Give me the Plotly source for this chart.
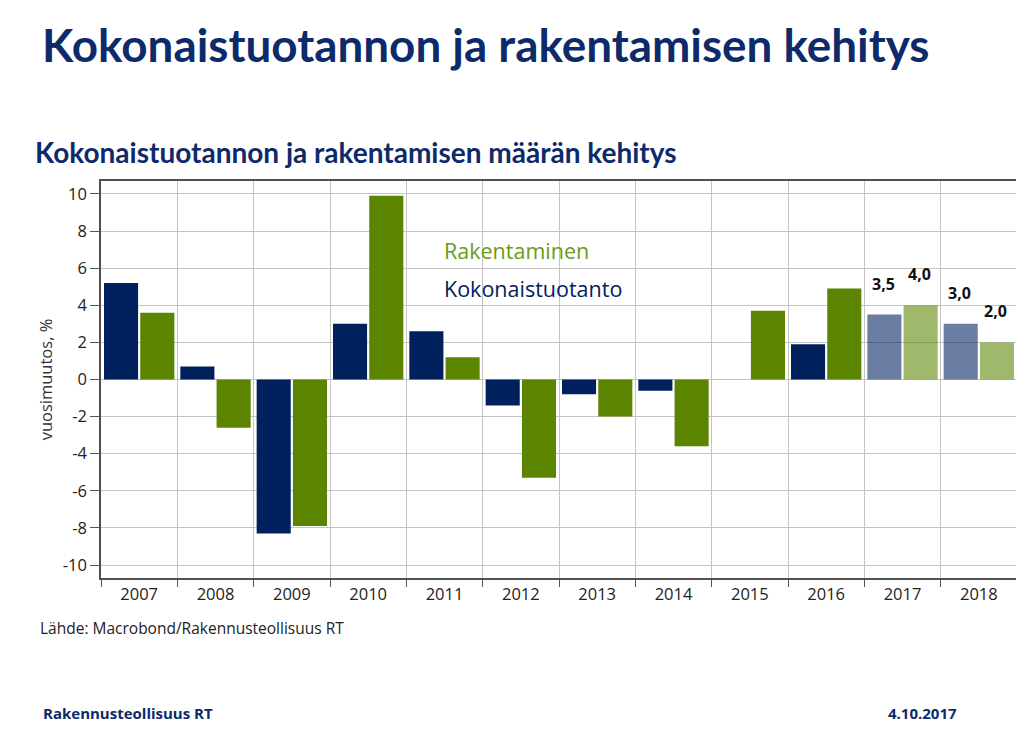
import plotly.graph_objects as go

years = ["2007", "2008", "2009", "2010", "2011", "2012", "2013", "2014", "2015", "2016", "2017", "2018"]
kokonaistuotanto = [5.2, 0.7, -8.3, 3.0, 2.6, -1.4, -0.8, -0.6, 0.0, 1.9, 3.5, 3.0]
rakentaminen = [3.6, -2.6, -7.9, 9.9, 1.2, -5.3, -2.0, -3.6, 3.7, 4.9, 4.0, 2.0]
forecast_years = ["2017", "2018"]
y_tick_values = [-10, -8, -6, -4, -2, 0, 2, 4, 6, 8, 10]
y_tick_labels = ["-10", "-8", "-6", "-4", "-2", "0", "2", "4", "6", "8", "10"]

NAVY = "#00215E"
GREEN = "#5B8400"
TITLE = "#0D2A6B"

opac = [0.58 if y in forecast_years else 1.0 for y in years]

# the page adds an 8px body margin, so the figure is drawn 8px smaller / shifted
OFF = 8
W, H = 1024 - OFF, 729 - OFF
ML, MR, MT, MB = 101 - OFF, 7, 181 - OFF, 151


def px(xp, yp):
    xp -= OFF
    yp -= OFF
    return (xp - ML) / (W - ML - MR), (H - MB - yp) / (H - MT - MB)


fig = go.Figure()
fig.add_trace(go.Bar(x=years, y=kokonaistuotanto, name="Kokonaistuotanto",
                     marker=dict(color=NAVY, opacity=opac, line=dict(width=0))))
fig.add_trace(go.Bar(x=years, y=rakentaminen, name="Rakentaminen",
                     marker=dict(color=GREEN, opacity=opac, line=dict(width=0))))

lab_font = dict(family="Open Sans", size=16, color="#111111", weight="bold")
for i, (y, k, r) in enumerate(zip(years, kokonaistuotanto, rakentaminen)):
    if y in forecast_years:
        fig.add_annotation(x=i, y=k, xref="x", yref="y", text=f"{k:.1f}".replace(".", ","),
                           showarrow=False, xshift=-19, yshift=31, font=lab_font)
        fig.add_annotation(x=i, y=r, xref="x", yref="y", text=f"{r:.1f}".replace(".", ","),
                           showarrow=False, xshift=17, yshift=31, font=lab_font)

lx, ly1 = px(442, 250)
_, ly2 = px(442, 288)
fig.add_annotation(x=lx, y=ly1, xref="paper", yref="paper", text="Rakentaminen",
                   showarrow=False, xanchor="left", yanchor="middle",
                   font=dict(family="Open Sans", size=21.5, color="#6A9A17"))
fig.add_annotation(x=lx, y=ly2, xref="paper", yref="paper", text="Kokonaistuotanto",
                   showarrow=False, xanchor="left", yanchor="middle",
                   font=dict(family="Open Sans", size=21.5, color=NAVY))

x0, y0 = px(40, 45)
fig.add_annotation(x=x0, y=y0, xref="paper", yref="paper", yanchor="middle",
                   xanchor="left", showarrow=False, text="Kokonaistuotannon ja rakentamisen kehitys",
                   font=dict(family="Lato", size=45.8, color=TITLE, weight="bold"))
x1, y1 = px(33, 152)
fig.add_annotation(x=x1, y=y1, xref="paper", yref="paper", xanchor="left", yanchor="middle",
                   showarrow=False, text="Kokonaistuotannon ja rakentamisen määrän kehitys",
                   font=dict(family="Lato", size=28, color=TITLE, weight="bold"))
x2, y2 = px(38, 628)
fig.add_annotation(x=x2, y=y2, xref="paper", yref="paper", xanchor="left", yanchor="middle",
                   showarrow=False, text="Lähde: Macrobond/Rakennusteollisuus RT",
                   font=dict(family="Open Sans", size=15.5, color="#222222"))
x3, y3 = px(41, 713)
fig.add_annotation(x=x3, y=y3, xref="paper", yref="paper", xanchor="left", yanchor="middle",
                   showarrow=False, text="Rakennusteollisuus RT",
                   font=dict(family="Open Sans", size=15, color=TITLE, weight="bold"))
x4, y4 = px(959, 713)
fig.add_annotation(x=x4, y=y4, xref="paper", yref="paper", xanchor="right", yanchor="middle",
                   showarrow=False, text="4.10.2017",
                   font=dict(family="Open Sans", size=15, color=TITLE, weight="bold"))

fig.update_layout(
    width=W, height=H,
    margin=dict(l=ML, r=MR, t=MT, b=MB, autoexpand=False),
    paper_bgcolor="white", plot_bgcolor="white",
    barmode="group", bargap=0.05, bargroupgap=0.06,
    showlegend=False,
    font=dict(family="Open Sans", color="#222222"),
)
fig.update_xaxes(
    type="category", range=[-0.5, len(years) - 0.5], tickson="boundaries",
    showgrid=True, gridcolor="#C4C4C4", gridwidth=1,
    ticks="outside", ticklen=7, tickcolor="#555555", tickangle=0,
    showline=True, linecolor="#505050", linewidth=1.5, mirror=True,
    tickfont=dict(size=16.5, color="#222222"),
)
fig.update_yaxes(
    range=[-10.7, 10.7], tickvals=y_tick_values, ticktext=y_tick_labels,
    showgrid=True, gridcolor="#C4C4C4", gridwidth=1, zeroline=False,
    ticks="outside", ticklen=9, tickcolor="#555555",
    showline=True, linecolor="#505050", linewidth=1.5, mirror=True,
    tickfont=dict(size=16.5, color="#222222"),
    title=dict(text="vuosimuutos, %", font=dict(size=16.5, color="#333333"), standoff=6),
)

fig.write_html("out.html")
